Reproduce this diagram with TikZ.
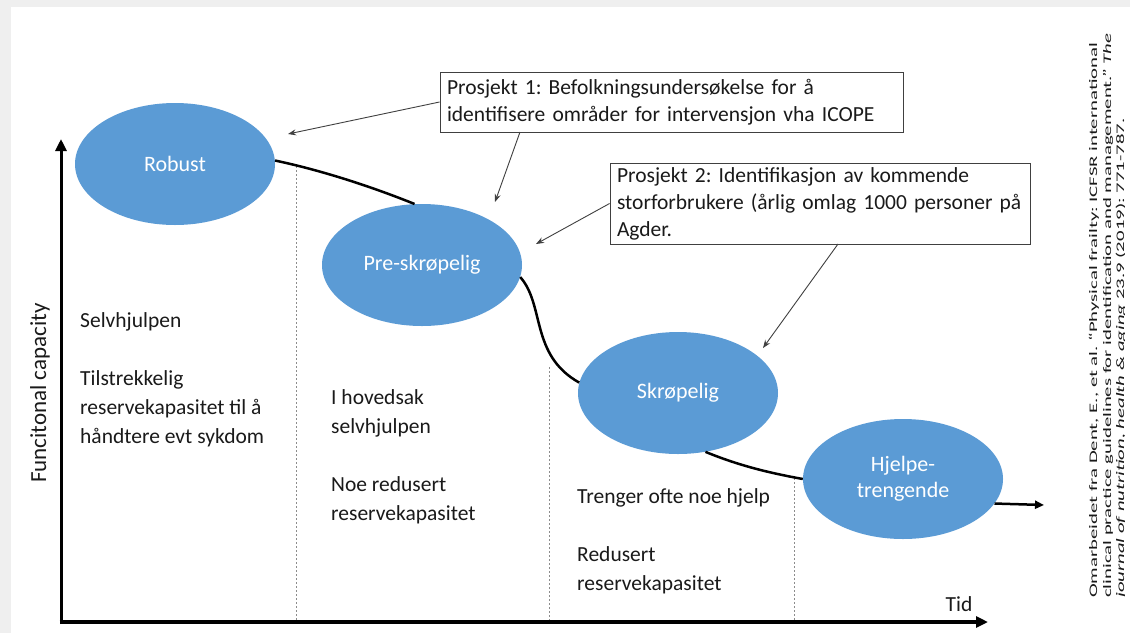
\documentclass[tikz,border=0pt]{standalone}
\usepackage{fontspec}
\usepackage{graphicx}
\setmainfont{Carlito}
\usetikzlibrary{arrows.meta,shapes.geometric}
\definecolor{ellblue}{HTML}{5B9BD5}
\definecolor{boxline}{HTML}{404040}
\definecolor{pagegray}{HTML}{EFEFEF}
\definecolor{dashgray}{HTML}{8C8C8C}
\definecolor{txt}{HTML}{1A1A1A}
\newlength\citew
\newcommand\citefont{\fontsize{11.5}{14}\selectfont}
\frenchspacing
\begin{document}
\settowidth\citew{\citefont Omarbeidet fra Dent, E., et al. “Physical frailty: ICFSR international}%
\pgfmathsetmacro\citesx{555/\citew}%
\begin{tikzpicture}[x=1pt,y=-1pt,
  stage/.style={ellipse, fill=ellblue, draw=none, minimum width=200pt, minimum height=122pt, inner sep=0pt, text=white, font=\fontsize{22}{26}\selectfont, align=center},
  body/.style={anchor=west, align=left, inner sep=0pt, text=txt, font=\fontsize{21.5}{28.9}\selectfont},
  projbox/.style={draw=boxline, line width=0.9pt, fill=white, inner xsep=7pt, inner ysep=0pt, align=left, font=\fontsize{21.5}{27}\selectfont, text=txt},
  pointer/.style={draw=boxline, line width=0.9pt, -{Stealth[length=8pt,width=6pt]}},
  axis/.style={line width=3.5pt, -{Triangle[length=12pt,width=11pt]}},
  trend/.style={line width=2.5pt},
  divider/.style={draw=dashgray, line width=0.9pt, dash pattern=on 2pt off 2pt},
  citeline/.style={rotate=90, anchor=west, inner sep=0pt, text=txt, font=\citefont},
]
\fill[pagegray] (0,0) rectangle (1130,633);
\fill[white] (11,7) rectangle (1130,633);
\useasboundingbox (0,0) rectangle (1130,633);

% dividers
\coordinate (d1top) at (296,166); \coordinate (d1bot) at (296,621);
\coordinate (d2top) at (549,367); \coordinate (d2bot) at (549,621);
\coordinate (d3top) at (794,478); \coordinate (d3bot) at (794,621);
\draw[divider] (d1top) -- (d1bot);
\draw[divider] (d2top) -- (d2bot);
\draw[divider] (d3top) -- (d3bot);

% axes
\coordinate (yfoot) at (61,624);
\coordinate (ytip) at (61,139);
\coordinate (xfoot) at (59.5,622);
\coordinate (xtip) at (988,622);
\draw[axis, line width=3pt] (yfoot) -- (ytip);
\draw[axis] (xfoot) -- (xtip);

% stages
\node[stage] (robust) at (175,164) {Robust};
\node[stage] (pre) at (422,265) {Pre-skrøpelig};
\node[stage] (skr) at (678,393) {Skrøpelig};
\node[stage, minimum height=120pt] (hjelp) at (903,479) {Hjelpe-\\trengende};

% trend curve
\coordinate (curveend) at (1044,505);
\draw[trend] (robust.2) .. controls (320,170) and (370,186) .. (pre.97);
\draw[trend] (pre.-7) .. controls (545,305) and (530,355) .. (skr.174);
\draw[trend] (skr.-65) .. controls (740,466) and (770,473) .. (hjelp.west);
\draw[trend, -{Triangle[length=9pt,width=8pt]}] (hjelp.-15) -- (curveend);

% project boxes
\node[projbox, text width=449pt, minimum height=60pt] (box1) at (671.5,102)
  {\mbox{Prosjekt 1: Befolkningsundersøkelse for å}\\\mbox{identifisere områder for intervensjon vha ICOPE}};
\node[projbox, text width=406pt, minimum height=81pt] (box2) at (820,203.5)
  {\mbox{Prosjekt 2: Identifikasjon av kommende}\\\mbox{storforbrukere (årlig omlag 1000 personer på}\\\mbox{Agder.}};

% pointers
\coordinate (p1tip) at (288,134);
\coordinate (b1foot) at (520,132);
\coordinate (p1tipb) at (495,202);
\coordinate (p2tip) at (536,244);
\coordinate (b2foot) at (838,244);
\coordinate (p2tipb) at (763,348);
\draw[pointer] (box1.west) -- (p1tip);
\draw[pointer] (b1foot) -- (p1tipb);
\draw[pointer] (box2.west) -- (p2tip);
\draw[pointer] (b2foot) -- (p2tipb);

% region texts
\node[body] (t1) at (80,379.5) {\strut Selvhjulpen\\\strut\\\strut Tilstrekkelig\\\strut reservekapasitet til å\\\strut håndtere evt sykdom};
\node[body] (t2) at (331,456.5) {\strut I hovedsak\\\strut selvhjulpen\\\strut\\\strut Noe redusert\\\strut reservekapasitet};
\node[body] (t3) at (577,541.5) {\strut Trenger ofte noe hjelp\\\strut\\\strut Redusert\\\strut reservekapasitet};

% axis labels
\node[rotate=90, inner sep=0pt, text=txt, font=\fontsize{23}{28}\selectfont] (ylab) at (40,393) {Funcitonal capacity};
\node[inner sep=0pt, text=txt, font=\fontsize{21.5}{26}\selectfont] (tid) at (959,604) {Tid};

% citation
\begin{scope}
\clip (1080,0) rectangle (1124,633);
\node[citeline] (cite1) at (1094,598) {\scalebox{\citesx}[1]{Omarbeidet fra Dent, E., et al. “Physical frailty: ICFSR international}};
\node[citeline] (cite2) at (1108,598) {\scalebox{\citesx}[1]{clinical practice guidelines for identification and management.” \textit{The}}};
\node[citeline] (cite3) at (1121,598) {\scalebox{\citesx}[1]{\textit{journal of nutrition, health \& aging} 23.9 (2019): 771-787.}};
\end{scope}
\end{tikzpicture}
\end{document}
